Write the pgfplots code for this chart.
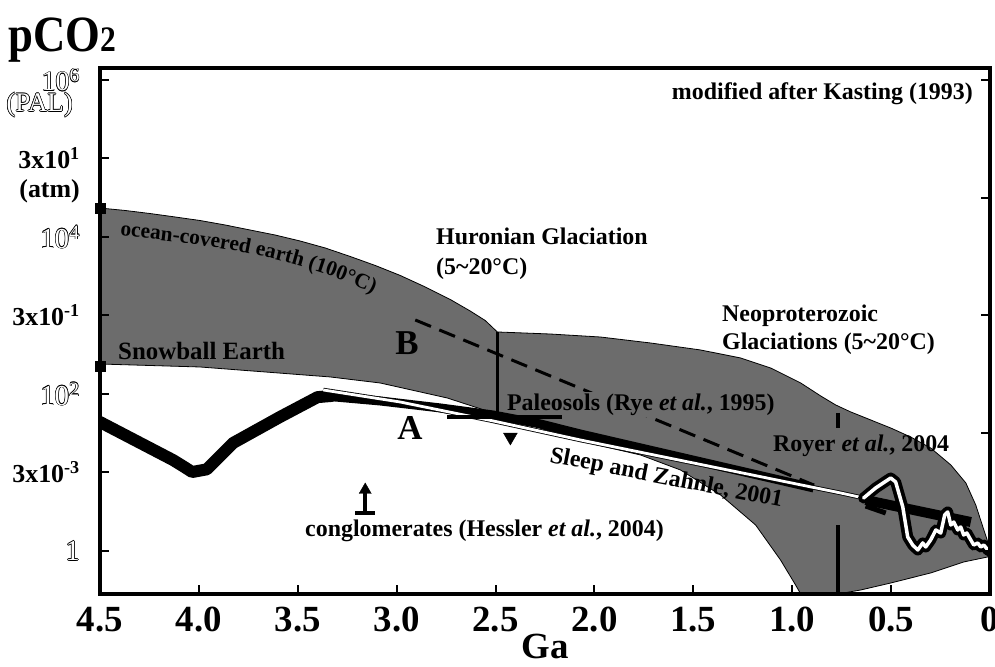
\documentclass[border=0pt]{standalone}
\usepackage{pgfplots}
\pgfplotsset{compat=1.18}
\usepackage{fontspec}
\setmainfont{Liberation Serif}
\usetikzlibrary{decorations.text}
\definecolor{bandgray}{RGB}{108,108,108}
\newcommand{\fs}[1]{\fontsize{#1}{#1}\selectfont}
\newsavebox\holbox
\newcommand\hol[1]{{\mdseries\sbox\holbox{\color{black}#1}%
\rlap{\kern.6pt\copy\holbox}\rlap{\kern-.6pt\copy\holbox}%
\rlap{\raise.6pt\copy\holbox}\rlap{\lower.6pt\copy\holbox}%
\rlap{\kern.42pt\raise.42pt\copy\holbox}\rlap{\kern-.42pt\raise.42pt\copy\holbox}%
\rlap{\kern.42pt\lower.42pt\copy\holbox}\rlap{\kern-.42pt\lower.42pt\copy\holbox}%
\textcolor{white}{#1}}}
\begin{document}
\begin{tikzpicture}
\path[use as bounding box] (-100bp,-73bp) rectangle (895bp,594bp);
\begin{axis}[
  at={(0,0)}, anchor=south west, scale only axis,
  width=890bp, height=526bp,
  xmin=0, xmax=4.5, x dir=reverse,
  ymin=-0.548, ymax=6.153,
  axis on top,
  tick pos=left, tick align=inside,
  major tick length=9bp,
  tick style={line width=2bp, black},
  axis line style={line width=3.5bp},
  xtick={0,0.5,1,1.5,2,2.5,3,3.5,4,4.5},
  xticklabels={0,0.5,1.0,1.5,2.0,2.5,3.0,3.5,4.0,4.5},
  ytick={0,1,2,3,4,5,6},
  yticklabels={{\fs{29}\hol{1}},{3x10\textsuperscript{-3}},{\fs{29}\hol{10\textsuperscript{2}}},{3x10\textsuperscript{-1}},{\fs{29}\hol{10\textsuperscript{4}}},{3x10\textsuperscript{1}},{\fs{28}\hol{10\textsuperscript{6}}}},
  xticklabel style={font=\bfseries\fs{37}, anchor=north, inner sep=0pt, yshift=-13bp},
  yticklabel style={font=\bfseries\fs{26}, anchor=east, inner sep=0pt, xshift=-20bp},
]
% gray band
\addplot[fill=bandgray, draw=black, line width=0.8bp, line join=round] coordinates {
(4.5,4.369) (4.373,4.338) (4.247,4.299) (4.120,4.255) (3.994,4.210) (3.867,4.153)
(3.741,4.089) (3.614,4.025) (3.488,3.949) (3.361,3.860) (3.235,3.752) (3.108,3.637)
(2.982,3.510) (2.855,3.363) (2.729,3.204) (2.628,3.057) (2.552,2.936) (2.491,2.790)
(2.223,2.764) (1.970,2.726) (1.717,2.650) (1.464,2.561) (1.261,2.459) (1.109,2.331)
(0.957,2.140) (0.856,1.975) (0.780,1.860) (0.704,1.771) (0.603,1.669) (0.502,1.567)
(0.401,1.452) (0.300,1.312) (0.198,1.096) (0.122,0.866) (0.072,0.586) (0.031,0.268)
(0.006,0.076) (0,0.013) (0,-0.025)
(0.011,-0.076) (0.133,-0.140) (0.300,-0.280) (0.502,-0.408) (0.654,-0.497) (0.770,-0.548)
(0.957,-0.548) (0.983,-0.433) (1.059,-0.115) (1.185,0.331) (1.362,0.713) (1.565,1.032)
(1.767,1.223) (2.071,1.40) (2.511,1.758) (2.744,1.949) (3.083,2.140) (3.336,2.217)
(3.994,2.344) (4.5,2.382) (4.5,4.369)};
% dashed B
\addplot[black, line width=3bp, dash pattern=on 17bp off 9bp] coordinates {(2.906,2.943) (0.892,0.841)};
\node[anchor=base west, fill=bandgray, inner sep=1.5pt, font=\bfseries\fs{24}] at (axis cs:2.450,1.796) {Paleosols (Rye \textit{et al.}, 1995)};
% Kasting curve (A)
\addplot[black, line width=12bp, line join=round, line cap=round] coordinates {
(4.5,1.643) (4.131,1.159) (4.08,1.08) (4.034,1.006) (3.96,1.04) (3.827,1.376)
(3.59,1.707) (3.40,1.96) (3.33,1.975)};
\addplot[black, line width=9bp, line join=round, line cap=butt] coordinates {
(3.371,1.975) (3.083,1.911) (2.779,1.822) (2.511,1.732) (2.273,1.618) (2.071,1.490) (0.892,0.803)};
% Sleep and Zahnle
\addplot[black, line width=4.5bp, line join=round] coordinates {
(3.371,2.051) (2.982,1.898) (2.511,1.656) (2.071,1.414) (0.755,0.739) (0.639,0.675)};
\addplot[white, line width=2.8bp, line join=round] coordinates {
(3.371,2.051) (2.982,1.898) (2.511,1.656) (2.071,1.414) (0.755,0.739) (0.639,0.675)};
% Paleosols
\addplot[black, line width=3.5bp] coordinates {(2.491,2.790) (2.491,1.707)};
\addplot[black, line width=3.5bp] coordinates {(2.744,1.707) (2.162,1.707)};
\addplot[only marks, mark=triangle*, mark size=8bp, mark options={rotate=180, fill=black, draw=black}] coordinates {(2.425,1.452)};
% conglomerates
\addplot[black, line width=4bp] coordinates {(3.210,0.484) (3.108,0.484)};
\addplot[black, line width=4bp] coordinates {(3.159,0.484) (3.159,0.74)};
\addplot[only marks, mark=triangle*, mark size=7bp, mark options={fill=black, draw=black}] coordinates {(3.159,0.777)};
% Neoproterozoic vertical dashed line
\addplot[black, line width=4bp] coordinates {(0.770,1.758) (0.770,1.567)};
\addplot[black, line width=4bp] coordinates {(0.770,0.331) (0.770,-0.548)};
% Royer band
\addplot[black, line width=10bp] coordinates {(0.629,0.650) (0.097,0.369)};
\addplot[black, line width=5bp] coordinates {(0.629,0.573) (0.527,0.484)};
% Royer curve
\addplot[black, line width=11bp, line join=round, line cap=round] coordinates {
(0.639,0.675) (0.578,0.803) (0.502,0.930) (0.477,0.879) (0.441,0.561) (0.416,0.178)
(0.391,0.076) (0.365,0.013) (0.340,0.102) (0.325,0.051) (0.300,0.140) (0.274,0.268)
(0.249,0.229) (0.229,0.459) (0.214,0.497) (0.198,0.331) (0.183,0.369) (0.163,0.268)
(0.148,0.306) (0.133,0.204) (0.117,0.229) (0.097,0.140) (0.082,0.076) (0.062,0.102)
(0.047,0.051) (0.031,0.076) (0.011,0.013) (0,0.0)};
\addplot[white, line width=3.5bp, line join=round, line cap=round] coordinates {
(0.639,0.675) (0.578,0.803) (0.502,0.930) (0.477,0.879) (0.441,0.561) (0.416,0.178)
(0.391,0.076) (0.365,0.013) (0.340,0.102) (0.325,0.051) (0.300,0.140) (0.274,0.268)
(0.249,0.229) (0.229,0.459) (0.214,0.497) (0.198,0.331) (0.183,0.369) (0.163,0.268)
(0.148,0.306) (0.133,0.204) (0.117,0.229) (0.097,0.140) (0.082,0.076) (0.062,0.102)
(0.047,0.051) (0.031,0.076) (0.011,0.013) (0,0.0)};
% squares on axis
\addplot[only marks, mark=square*, mark size=5bp, mark options={fill=black, draw=black}] coordinates {(4.5,4.369) (4.5,2.357)};
\end{axis}
\begin{axis}[
  at={(0,0)}, anchor=south west, scale only axis,
  width=890bp, height=526bp,
  xmin=0, xmax=4.5, x dir=reverse,
  ymin=-0.548, ymax=6.153,
  axis x line=none, axis y line*=right,
  tick align=inside, major tick length=9bp,
  tick style={line width=2bp, black},
  axis line style={line width=3.5bp, -},
  ytick={0,1.5,3,4.5,6}, yticklabels={},
]
\end{axis}
\begin{scope}[x=1bp, y=-1bp, shift={(-100bp,594bp)}]
\node[anchor=base west, inner sep=0pt, font=\bfseries\fs{51}] at (8,52) {\scalebox{0.88}[1]{pCO{\fs{36}2}}};
\node[anchor=east, inner sep=0pt, font=\fs{27}] at (73,105) {\hol{(PAL)}};
\node[anchor=east, inner sep=0pt, font=\bfseries\fs{26}] at (80,191) {(atm)};
\node[anchor=base, inner sep=0pt, font=\bfseries\fs{37}] at (545,659) {Ga};
\begin{scope}[every node/.style={inner sep=0pt, font=\bfseries\fs{24}}]
\node[anchor=base east] at (973,100) {modified after Kasting (1993)};
\node[anchor=base west] at (436,245) {Huronian Glaciation};
\node[anchor=base west] at (436,275) {(5\textasciitilde20°C)};
\node[anchor=base west, font=\bfseries\fs{25}] at (118,360) {Snowball Earth};
\node[anchor=base west, rotate=-11] at (549,462) {Sleep and Zahnle, 2001};
\node[anchor=base west] at (722,322) {Neoproterozoic};
\node[anchor=base west] at (722,350) {Glaciations (5\textasciitilde20°C)};
\node[anchor=base west] at (773,452) {Royer \textit{et al.}, 2004};
\node[anchor=base west] at (305,537) {conglomerates (Hessler \textit{et al.}, 2004)};
\node[font=\bfseries\fs{35}] at (407,343) {B};
\node[font=\bfseries\fs{35}] at (410,428) {A};
\end{scope}
\path[decorate, decoration={text along path, text align={left}, text={|\bfseries\fs{21.5}|ocean-covered earth (100°C)}}]
  (120,236) .. controls (230,246) and (310,262) .. (378,296);
\end{scope}
\end{tikzpicture}
\end{document}
